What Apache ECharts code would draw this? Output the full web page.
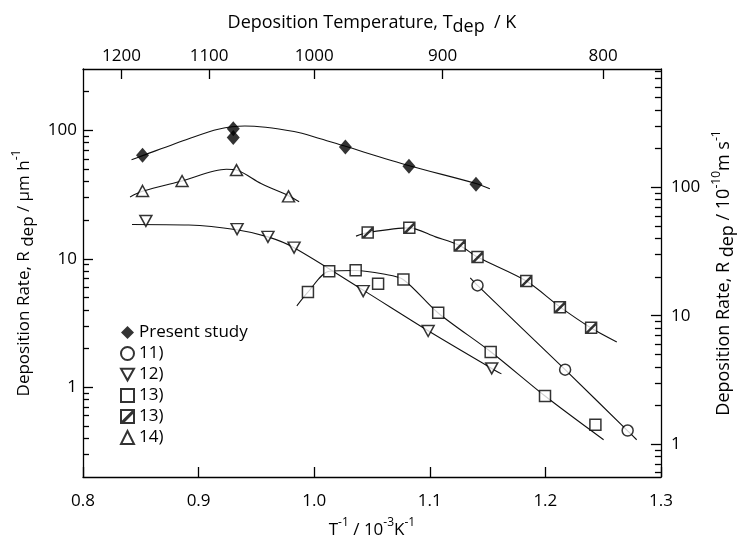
<!DOCTYPE html>
<html><head><meta charset="utf-8">
<script src="https://cdn.jsdelivr.net/npm/echarts@6/dist/echarts.min.js"></script>
<style>html,body{margin:0;background:#fff}#c{width:745px;height:545px}</style>
</head><body><div id="c"></div>
<script>
// ---- data (x = 1/T in 10^-3 K^-1, y = deposition rate in um/h) ----
const presentStudy = [[0.8515,64],[0.930,103],[0.930,88],[1.027,74],[1.082,52.5],[1.140,38]];
const ref11 = [[1.1413,6.2],[1.2171,1.37],[1.2712,0.46]];
const ref12 = [[0.8544,19.7],[0.9333,17.0],[0.960,14.8],[0.9826,12.2],[1.0424,5.6],[1.0986,2.74],[1.1536,1.40]];
const ref13 = [[0.9946,5.5],[1.013,8.0],[1.0359,8.15],[1.0553,6.4],[1.0772,6.9],[1.1073,3.8],[1.1527,1.88],[1.1997,0.855],[1.2433,0.51]];
const ref13h = [[1.0463,16.0],[1.0823,17.4],[1.1259,12.7],[1.1413,10.3],[1.1835,6.7],[1.2126,4.2],[1.2396,2.9]];
const ref14 = [[0.8515,33.7],[0.8857,40.3],[0.9328,49.0],[0.9778,30.6]];

// fitted curves as drawn in the figure
const fitPresent = [[0.842,59],[0.8515,63.5],[0.8915,86],[0.917,102],[0.94,108],[0.9826,98],[1.0054,86],[1.027,75],[1.0823,53],[1.14,38.5],[1.152,35]];
const fit11 = [[1.135,7.1],[1.1413,6.2],[1.2171,1.37],[1.2712,0.457],[1.279,0.39]];
const fit12 = [[0.8424,18.5],[0.8915,18.3],[0.933,16.8],[0.960,14.8],[0.9826,12.2],[1.0424,5.7],[1.0986,2.75],[1.1536,1.40],[1.162,1.27]];
const fit13 = [[0.985,4.3],[0.9946,5.5],[1.013,8.0],[1.036,8.1],[1.06,7.6],[1.077,6.9],[1.107,3.8],[1.153,1.88],[1.2,0.85],[1.2504,0.39]];
const fit13h = [[1.0362,15.0],[1.0463,16.0],[1.0823,17.4],[1.105,14.8],[1.1259,12.7],[1.1413,10.3],[1.1835,6.7],[1.2126,4.22],[1.2396,2.89],[1.2618,2.25]];
const fit14 = [[0.8407,30.3],[0.8515,33.5],[0.8857,40.3],[0.924,49.7],[0.9328,49],[0.954,38.5],[0.9778,31],[0.987,27.8]];

// axes
const xRange = [0.8, 1.3];
const tempTicks = [1200, 1100, 1000, 900, 800];
const yRange = [0.2, 300];
const yMajor = [1, 10, 100];
const yMinorLeft = [0.3,0.4,0.5,0.6,0.7,0.8,0.9,2,3,4,5,6,7,8,9,20,30,40,50,60,70,80,90,200];
const yMinorRight = [0.6,0.7,0.8,0.9,2,3,4,5,6,7,8,9,20,30,40,50,60,70,80,90,200,300,400,500,600,700,800];
const unitFactor = 1e4 / 3600; // um/h -> 1e-10 m/s

const FONT = 'Open Sans';
function richSet(fs) {
  return {
    n: {fontSize: fs, lineHeight: 26, fontFamily: FONT, color: '#000'},
    sb: {fontSize: fs, lineHeight: fs, verticalAlign: 'bottom', fontFamily: FONT, color: '#000'},
    sp: {fontSize: Math.round(fs * 0.68), lineHeight: 12, verticalAlign: 'top', fontFamily: FONT, color: '#000'}
  };
}
const lineAx = {show: true, lineStyle: {color: '#000', width: 1.3}};
const lbl = {color: '#000', fontSize: 17, fontFamily: FONT};

const chart = echarts.init(document.getElementById('c'), null, {renderer: 'canvas'});
const hatched = 'path://M0,0H10V10H0Z M0,10L10,0 M1.2,10L10,1.2';
const triDown = 'path://M0,0L10,0L5,9Z';

function fitLine(data) {
  return {type: 'line', data: data, showSymbol: false, symbol: 'none', smooth: 0.3,
    lineStyle: {color: '#111', width: 1.1}, silent: true, z: 1, xAxisIndex: 0, yAxisIndex: 0};
}
const openStyle = {color: '#fff', borderColor: '#000', borderWidth: 1.5};

chart.setOption({
  animation: false,
  backgroundColor: '#fff',
  grid: {left: 83, right: 77, top: 69, bottom: 68, containLabel: false},
  legend: {
    orient: 'vertical', left: 115, top: 319,
    itemWidth: 13, itemHeight: 13, itemGap: 4, itemTextGap: 9,
    textStyle: {color: '#000', fontSize: 17, lineHeight: 17, fontFamily: FONT},
    formatter: n => n.trim(),
    data: ['Present study', '11)', '12)', '13)', '13) ', '14)']
  },
  xAxis: [
    {type: 'value', position: 'bottom', min: xRange[0], max: xRange[1], interval: 0.1,
     axisLine: lineAx, splitLine: {show: false},
     axisTick: {inside: true, length: 10, lineStyle: {color: '#000', width: 1.3}},
     axisLabel: Object.assign({margin: 16, formatter: v => v.toFixed(1)}, lbl),
     name: '{n|T}{sp|-1}{n| / 10}{sp|-3}{n|K}{sp|-1}', nameLocation: 'middle', nameGap: 40,
     nameTextStyle: {rich: richSet(17)}},
    {type: 'value', position: 'top', min: xRange[0], max: xRange[1],
     axisLine: lineAx, splitLine: {show: false},
     axisTick: {inside: true, length: 10, customValues: tempTicks.map(t => 1000 / t), lineStyle: {color: '#000', width: 1.3}},
     axisLabel: Object.assign({margin: 4, customValues: tempTicks.map(t => 1000 / t), formatter: v => String(Math.round(1000 / v))}, lbl),
     name: '{n|Deposition Temperature, T}{sb|dep}{n|  / K}', nameLocation: 'middle', nameGap: 33,
     nameTextStyle: {rich: richSet(18)}}
  ],
  yAxis: [
    {type: 'log', logBase: 10, position: 'left', min: yRange[0], max: yRange[1],
     axisLine: lineAx, splitLine: {show: false}, minorTick: {show: false},
     axisTick: {inside: true, length: 10, customValues: yMajor, lineStyle: {color: '#000', width: 1.3}},
     axisLabel: Object.assign({margin: 6, customValues: yMajor, formatter: v => String(v)}, lbl),
     name: '{n|Deposition Rate, R}{sb| dep}{n| / µm h}{sp|-1}', nameLocation: 'middle', nameGap: 45, nameRotate: 90,
     nameTextStyle: {rich: richSet(17)}},
    {type: 'log', logBase: 10, position: 'left', min: yRange[0], max: yRange[1],
     axisLine: {show: false}, splitLine: {show: false},
     axisTick: {inside: true, length: 6, customValues: yMinorLeft, lineStyle: {color: '#000', width: 1.3}},
     axisLabel: {show: false}},
    {type: 'log', logBase: 10, position: 'right', min: yRange[0] * unitFactor, max: yRange[1] * unitFactor,
     axisLine: lineAx, splitLine: {show: false},
     axisTick: {inside: true, length: 10, customValues: yMajor, lineStyle: {color: '#000', width: 1.3}},
     axisLabel: Object.assign({margin: 10, customValues: yMajor, formatter: v => String(v)}, lbl),
     name: '{n|Deposition Rate, R}{sb| dep}{n| / 10}{sp|-10}{n|m s}{sp|-1}', nameLocation: 'middle', nameGap: 42, nameRotate: 90,
     nameTextStyle: {rich: richSet(18)}},
    {type: 'log', logBase: 10, position: 'right', min: yRange[0] * unitFactor, max: yRange[1] * unitFactor,
     axisLine: {show: false}, splitLine: {show: false},
     axisTick: {inside: true, length: 6, customValues: yMinorRight, lineStyle: {color: '#000', width: 1.3}},
     axisLabel: {show: false}}
  ],
  series: [
    fitLine(fitPresent), fitLine(fit11), fitLine(fit12), fitLine(fit13), fitLine(fit13h), fitLine(fit14),
    {name: 'Present study', type: 'scatter', data: presentStudy, symbol: 'diamond', symbolSize: [13, 15],
     itemStyle: {color: '#000'}, z: 3},
    {name: '11)', type: 'scatter', data: ref11, symbol: 'circle', symbolSize: 11, itemStyle: openStyle, z: 3},
    {name: '12)', type: 'scatter', data: ref12, symbol: triDown, symbolSize: [12, 11], itemStyle: openStyle, z: 3},
    {name: '13)', type: 'scatter', data: ref13, symbol: 'rect', symbolSize: 11, itemStyle: openStyle, z: 3},
    {name: '13) ', type: 'scatter', data: ref13h, symbol: hatched, symbolSize: 11, itemStyle: openStyle, z: 3},
    {name: '14)', type: 'scatter', data: ref14, symbol: 'triangle', symbolSize: [12, 11], itemStyle: openStyle, z: 3}
  ]
});
</script></body></html>
